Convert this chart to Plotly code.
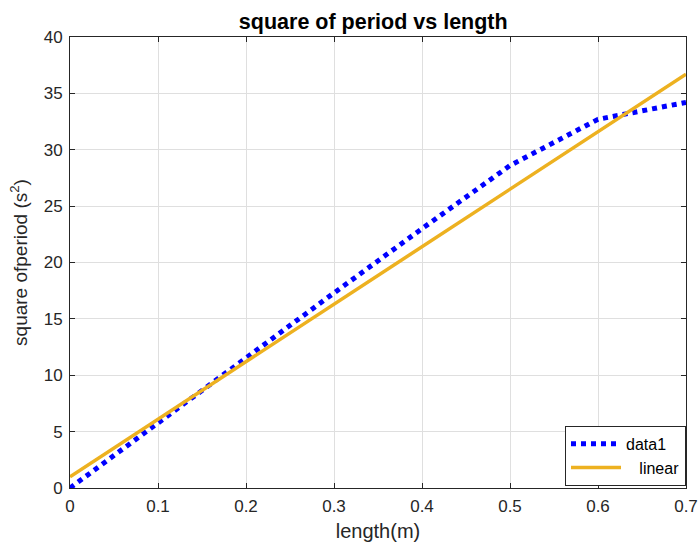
import plotly.graph_objects as go

length_m = [0, 0.1, 0.2, 0.3, 0.4, 0.5, 0.6, 0.7]
period_sq = [0, 5.8, 11.5, 17.3, 23.0, 28.6, 32.7, 34.2]
linear_x = [0, 0.7]
linear_y = [1.0, 36.7]

FONT = "Liberation Sans, Arial"
W, H = 699, 544

fig = go.Figure()
fig.add_trace(go.Scatter(x=length_m, y=period_sq, mode="lines", name="data1",
                         line=dict(color="#0000FF", width=5, dash="dot")))
fig.add_trace(go.Scatter(x=linear_x, y=linear_y, mode="lines",
                         name="\u00a0\u00a0\u00a0linear",
                         line=dict(color="#EDB120", width=3.5)))

axis_common = dict(showline=True, linecolor="#262626", linewidth=1, mirror="ticks",
                   ticks="inside", ticklen=5, tickcolor="#262626", automargin=False,
                   showgrid=True, gridcolor="#DFDFDF", gridwidth=1, zeroline=False,
                   ticklabelstandoff=3,
                   tickfont=dict(family=FONT, size=17, color="#262626"))

fig.update_layout(
    width=W, height=H,
    paper_bgcolor="white", plot_bgcolor="white",
    margin=dict(l=70, r=13, t=37, b=56),
    title=dict(text="<b>square of period vs length</b>", x=0.534, xanchor="center",
               yref="container", y=1 - 21 / H, yanchor="middle",
               font=dict(family=FONT, size=21.5, color="black")),
    xaxis=dict(range=[0, 0.7], tickvals=[0, 0.1, 0.2, 0.3, 0.4, 0.5, 0.6, 0.7],
               ticktext=["0", "0.1", "0.2", "0.3", "0.4", "0.5", "0.6", "0.7"],
               title=dict(text="length(m)", standoff=8,
                          font=dict(family=FONT, size=20, color="#262626")),
               **axis_common),
    yaxis=dict(range=[0, 40], dtick=5,
               title=dict(text="square ofperiod (s<sup>2</sup>)", standoff=11,
                          font=dict(family=FONT, size=19, color="#262626")),
               **axis_common),
    legend=dict(x=1.0, y=0.005, xanchor="right", yanchor="bottom",
                bgcolor="white", bordercolor="#262626", borderwidth=1,
                font=dict(family=FONT, size=16, color="black"),
                itemwidth=50, tracegroupgap=0),
    showlegend=True,
)

fig.write_html("out.html", config={"displayModeBar": False},
               post_script="document.body.style.margin='0';document.body.style.overflow='hidden';")
